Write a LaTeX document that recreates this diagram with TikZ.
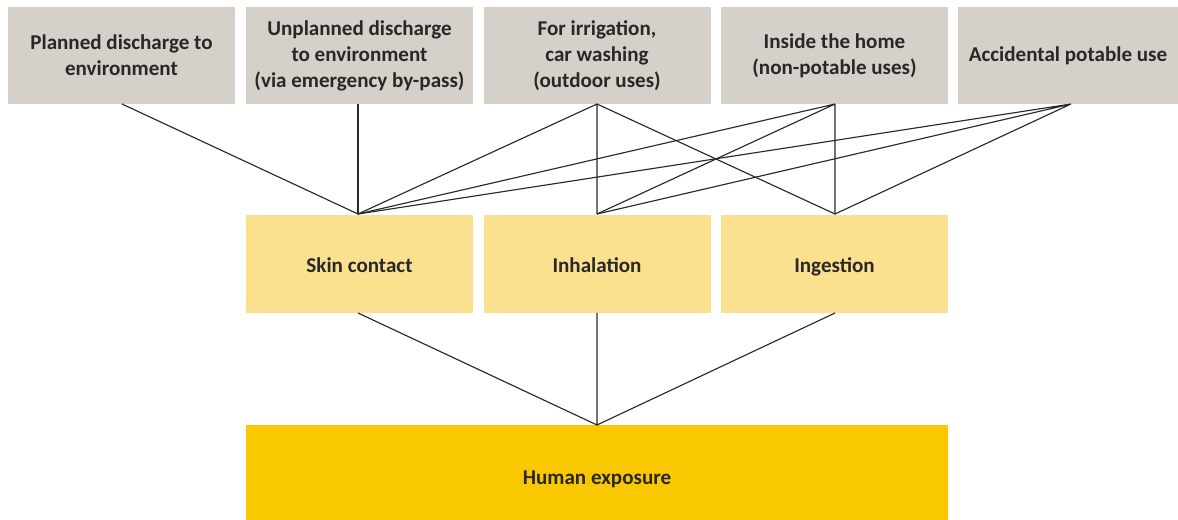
\documentclass[tikz,border=0pt]{standalone}
\usepackage{fontspec}
\setmainfont{Carlito}
\definecolor{topgrey}{RGB}{213,208,201}
\definecolor{midyellow}{RGB}{250,224,143}
\definecolor{botyellow}{RGB}{250,200,0}
\definecolor{linegrey}{RGB}{40,40,40}
\definecolor{textgrey}{RGB}{40,40,40}
\begin{document}
\begin{tikzpicture}[x=0.75pt,y=-0.75pt,
  boxbase/.style={draw=none,inner sep=0pt,align=center,font=\bfseries\fontsize{15.8}{19.5}\selectfont,text=textgrey},
  topbox/.style={boxbase,fill=topgrey,minimum width=227*0.75pt,minimum height=97*0.75pt},
  midbox/.style={boxbase,fill=midyellow,minimum width=227*0.75pt,minimum height=98*0.75pt,text height=13.5pt,text depth=0pt},
  botbox/.style={boxbase,fill=botyellow,minimum width=702*0.75pt,minimum height=95*0.75pt,text height=17.25pt,text depth=0pt},
  link/.style={draw=linegrey,line width=0.85pt}]
\useasboundingbox (0,0) rectangle (1178,520);
\node[topbox] (t1) at (121.5,55.5) {Planned discharge to\\environment};
\node[topbox] (t2) at (359.5,55.5) {Unplanned discharge\\to environment\\(via emergency by-pass)};
\node[topbox] (t3) at (597,55.5) {For irrigation,\\car washing\\(outdoor uses)};
\node[topbox] (t4) at (834.5,55.5) {Inside the home\\(non-potable uses)};
\node[topbox,minimum width=220*0.75pt] (t5) at (1068,55.5) {Accidental potable use};
\node[midbox] (m1) at (359.5,264) {Skin contact};
\node[midbox] (m2) at (597,264) {Inhalation};
\node[midbox] (m3) at (834.5,264) {Ingestion};
\node[botbox] (h) at (597,472.5) {Human exposure};
\coordinate (t1b) at (122,104);
\coordinate (t2b) at (358,104);
\coordinate (t3b) at (597,104);
\coordinate (t4b) at (835,104);
\coordinate (t5b) at (1071,104);
\coordinate (m1t) at (358,214);
\coordinate (m2t) at (597,214);
\coordinate (m3t) at (835,214);
\coordinate (m1b) at (358,313);
\coordinate (m2b) at (597,313);
\coordinate (m3b) at (835,313);
\coordinate (ht) at (597,425);
\draw[link] (t1b) -- (m1t);
\draw[link] (t2b) -- (m1t);
\draw[link] (t3b) -- (m1t) (t3b) -- (m2t) (t3b) -- (m3t);
\draw[link] (t4b) -- (m1t) (t4b) -- (m2t) (t4b) -- (m3t);
\draw[link] (t5b) -- (m1t) (t5b) -- (m2t) (t5b) -- (m3t);
\draw[link] (m1b) -- (ht) (m2b) -- (ht) (m3b) -- (ht);
\end{tikzpicture}
\end{document}
